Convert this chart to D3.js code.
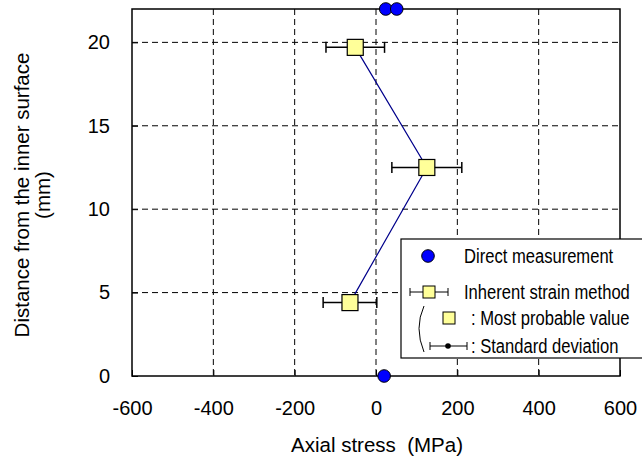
<!DOCTYPE html>
<html><head><meta charset="utf-8">
<script src="https://cdn.jsdelivr.net/npm/d3@7"></script>
<style>body{margin:0;background:#fff}svg{display:block;font-family:"Liberation Sans",Arial,sans-serif}text{white-space:pre}</style>
</head><body>
<svg id="c" width="642" height="468"></svg>
<script>
const xTicks = [-600,-400,-200,0,200,400,600];
const yTicks = [0,5,10,15,20];
const directX = [24, 51, 20];
const directY = [22, 22, 0];
const inherentX = [-64, 125, -51];
const inherentY = [4.4, 12.5, 19.7];
const inherentSD = [66, 86, 72];

const svg = d3.select("#c");
const L=132, R=620, T=9, B=376;
const x = d3.scaleLinear().domain([-600,600]).range([L,R]);
const y = d3.scaleLinear().domain([0,22]).range([B,T]);

// grid
svg.append("g").selectAll("line").data(xTicks.slice(1,-1)).join("line")
  .attr("x1",d=>x(d)).attr("x2",d=>x(d)).attr("y1",T).attr("y2",B)
  .attr("stroke","#000").attr("stroke-dasharray","6,4").attr("stroke-width",1);
svg.append("g").selectAll("line").data(yTicks.slice(1)).join("line")
  .attr("x1",L).attr("x2",R).attr("y1",d=>y(d)).attr("y2",d=>y(d))
  .attr("stroke","#000").attr("stroke-dasharray","6,4").attr("stroke-width",1);

// frame
svg.append("rect").attr("x",L).attr("y",T).attr("width",R-L).attr("height",B-T)
  .attr("fill","none").attr("stroke","#000").attr("stroke-width",1.5);

// axes
const xa = svg.append("g").attr("transform",`translate(0,${B})`)
  .call(d3.axisBottom(x).tickValues(xTicks).tickFormat(d=>String(d)).tickSize(-6).tickPadding(25));
const ya = svg.append("g").attr("transform",`translate(${L},0)`)
  .call(d3.axisLeft(y).tickValues(yTicks).tickFormat(d=>String(d)).tickSize(-6).tickPadding(22));
[xa,ya].forEach(a=>{a.select(".domain").remove();
  a.selectAll("text").attr("font-size",20).attr("fill","#000").attr("font-family","Liberation Sans, Arial, sans-serif");
  a.selectAll("line").attr("stroke","#000");});

// titles
svg.append("text").attr("x",377).attr("y",452).attr("text-anchor","middle")
  .attr("font-size",20.5).text("Axial stress  (MPa)");
svg.append("text").attr("transform","translate(29,195) rotate(-90)").attr("text-anchor","middle")
  .attr("font-size",20.5).text("Distance from the inner surface");
svg.append("text").attr("transform","translate(50,195) rotate(-90)").attr("text-anchor","middle")
  .attr("font-size",20.5).text("(mm)");

// inherent line
const pts = inherentX.map((v,i)=>[v,inherentY[i],inherentSD[i]]);
svg.append("path").datum(pts).attr("fill","none").attr("stroke","#00008B").attr("stroke-width",1.2)
  .attr("d",d3.line().x(d=>x(d[0])).y(d=>y(d[1])));
// error bars
const eb = svg.append("g").attr("stroke","#000").attr("stroke-width",1.5);
pts.forEach(d=>{
  eb.append("line").attr("x1",x(d[0]-d[2])).attr("x2",x(d[0]+d[2])).attr("y1",y(d[1])).attr("y2",y(d[1]));
  [d[0]-d[2],d[0]+d[2]].forEach(v=>eb.append("line").attr("x1",x(v)).attr("x2",x(v)).attr("y1",y(d[1])-5.5).attr("y2",y(d[1])+5.5));
});
svg.append("g").selectAll("rect").data(pts).join("rect")
  .attr("x",d=>x(d[0])-8).attr("y",d=>y(d[1])-8).attr("width",16).attr("height",16)
  .attr("fill","#FFFF99").attr("stroke","#000").attr("stroke-width",1.2);

// direct
svg.append("g").selectAll("circle").data(directX.map((v,i)=>[v,directY[i]])).join("circle")
  .attr("cx",d=>x(d[0])).attr("cy",d=>y(d[1])).attr("r",6.3)
  .attr("fill","#0000FF").attr("stroke","#000").attr("stroke-width",1);

// legend
const lg = svg.append("g");
lg.append("rect").attr("x",401).attr("y",239).attr("width",245).attr("height",119)
  .attr("fill","#fff").attr("stroke","#000").attr("stroke-width",1.2);
lg.append("circle").attr("cx",428).attr("cy",256).attr("r",6.3).attr("fill","#0000FF").attr("stroke","#000");
const tx = (xx,yy,s)=>lg.append("text").attr("x",0).attr("y",0).attr("dy","0.35em")
  .attr("font-size",21).attr("transform",`translate(${xx},${yy}) scale(0.79,1)`).text(s);
tx(464,256,"Direct measurement");
lg.append("line").attr("x1",410).attr("x2",448).attr("y1",292).attr("y2",292).attr("stroke","#000");
[410,448].forEach(v=>lg.append("line").attr("x1",v).attr("x2",v).attr("y1",288).attr("y2",296).attr("stroke","#000"));
lg.append("rect").attr("x",423).attr("y",286).attr("width",12).attr("height",12).attr("fill","#FFFF99").attr("stroke","#000");
tx(464,292,"Inherent strain method");
lg.append("rect").attr("x",443).attr("y",312).attr("width",12).attr("height",12).attr("fill","#FFFF99").attr("stroke","#000");
tx(471,318,": Most probable value");
lg.append("line").attr("x1",430).attr("x2",467).attr("y1",346).attr("y2",346).attr("stroke","#000");
[430,467].forEach(v=>lg.append("line").attr("x1",v).attr("x2",v).attr("y1",342).attr("y2",350).attr("stroke","#000"));
lg.append("circle").attr("cx",448).attr("cy",346).attr("r",2.8).attr("fill","#000");
tx(471,346,": Standard deviation");
lg.append("path").attr("d","M424,306 Q414,328 424,352").attr("fill","none").attr("stroke","#000");
</script>
</body></html>
